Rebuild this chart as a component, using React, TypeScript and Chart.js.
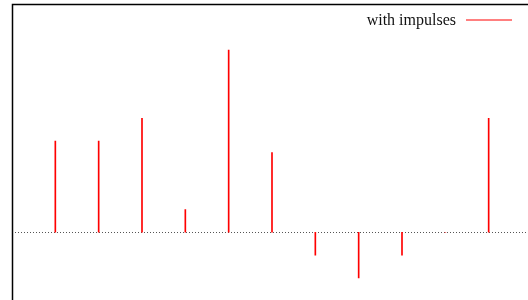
import React, { useEffect, useRef } from "react";
import { Chart, registerables } from "chart.js";

Chart.register(...registerables);

const xValues = [1, 2, 3, 4, 5, 6, 7, 8, 9, 10, 11];
const yValues = [4, 4, 5, 1, 8, 3.5, -1, -2, -1, 0, 5];
const seriesLabel = "with impulses";
const xRange = [0, 12];
const yRange = [-3, 10];

const framePlugin = {
  id: "gnuFrame",
  beforeDatasetsDraw(chart: any) {
    const { ctx, chartArea } = chart;
    const ys = chart.scales.y;
    const y0 = Math.round(ys.getPixelForValue(0)) + 0.5;
    ctx.save();
    ctx.strokeStyle = "#555";
    ctx.lineWidth = 1;
    ctx.setLineDash([1, 2]);
    ctx.beginPath();
    ctx.moveTo(chartArea.left, y0);
    ctx.lineTo(chartArea.right, y0);
    ctx.stroke();
    ctx.restore();
  },
  afterDraw(chart: any) {
    const { ctx, chartArea } = chart;
    ctx.save();
    ctx.strokeStyle = "#000";
    ctx.lineWidth = 1.5;
    ctx.beginPath();
    ctx.moveTo(chartArea.left + 0.5, chartArea.bottom);
    ctx.lineTo(chartArea.left + 0.5, chartArea.top);
    ctx.lineTo(chartArea.right, chartArea.top);
    ctx.lineTo(chartArea.right, chartArea.bottom);
    ctx.stroke();
    // key
    ctx.font = "16px 'Liberation Serif', serif";
    ctx.fillStyle = "#111";
    ctx.textAlign = "right";
    ctx.textBaseline = "alphabetic";
    ctx.fillText(seriesLabel, 456, 25);
    ctx.strokeStyle = "#ff0000";
    ctx.lineWidth = 1;
    ctx.beginPath();
    ctx.moveTo(466, 20);
    ctx.lineTo(512, 20);
    ctx.stroke();
    ctx.restore();
  },
};

export default function App() {
  const ref = useRef<HTMLCanvasElement | null>(null);
  useEffect(() => {
    if (!ref.current) return;
    const chart = new Chart(ref.current, {
      type: "bar",
      data: {
        datasets: [
          {
            label: seriesLabel,
            data: xValues.map((x, i) => ({ x, y: yValues[i] })),
            backgroundColor: "#ff0000",
            borderWidth: 0,
            barThickness: 1,
          },
        ],
      },
      options: {
        animation: false,
        responsive: false,
        devicePixelRatio: 1,
        layout: { padding: { left: 12, top: 4.5, right: 8, bottom: 9.4 } },
        plugins: { legend: { display: false }, tooltip: { enabled: false } },
        scales: {
          x: { type: "linear", min: xRange[0], max: xRange[1], display: false, offset: false },
          y: { type: "linear", min: yRange[0], max: yRange[1], display: false },
        },
      },
      plugins: [framePlugin],
    });
    return () => chart.destroy();
  }, []);
  return (
    <canvas
      ref={ref}
      width={540}
      height={310}
      style={{ position: "fixed", left: 0, top: 0, width: 540, height: 310, background: "#fff" }}
    />
  );
}
